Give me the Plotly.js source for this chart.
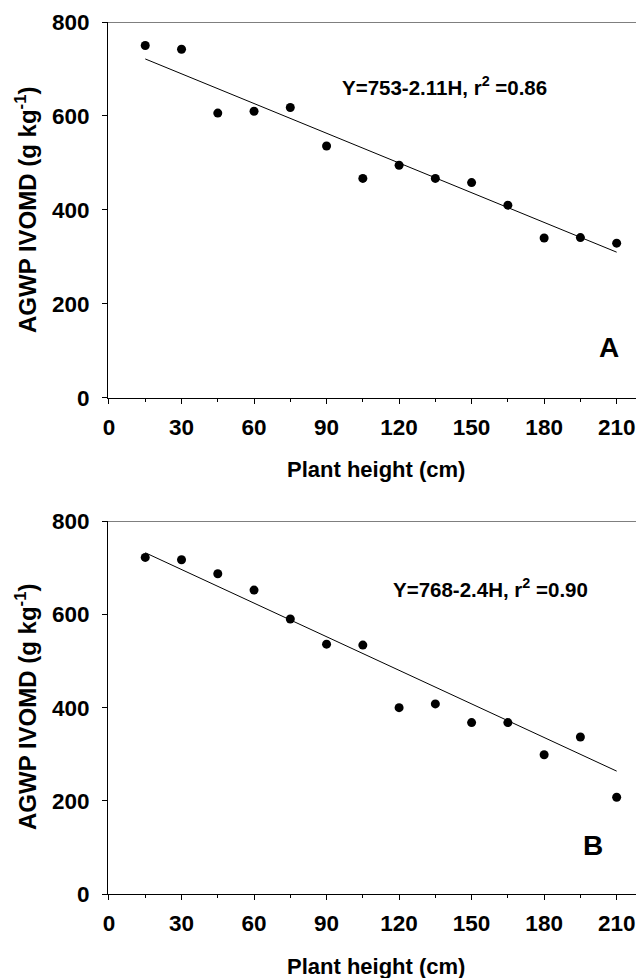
<!DOCTYPE html>
<html>
<head>
<meta charset="utf-8">
<script src="https://cdn.plot.ly/plotly-3.0.1.min.js"></script>
<style>
  html, body { margin: 0; padding: 0; background: #fff; }
  #chart { width: 636px; height: 978px; }
</style>
</head>
<body>
<div id="chart"></div>
<script>
// Plant height (cm) at each harvest
const plantHeight = [15, 30, 45, 60, 75, 90, 105, 120, 135, 150, 165, 180, 195, 210];

// AGWP IVOMD (g/kg), panel A and panel B
const ivomdA = [750, 742, 606, 610, 618, 536, 467, 495, 467, 458, 410, 340, 341, 329];
const ivomdB = [722, 717, 687, 652, 590, 536, 534, 400, 408, 368, 368, 299, 337, 208];

// Linear regression fits: Y = intercept + slope * H
const interceptA = 753, slopeA = -2.11, r2A = 0.86;
const interceptB = 768, slopeB = -2.4,  r2B = 0.90;

const xTickVals = [0, 30, 60, 90, 120, 150, 180, 210];
const yTickVals = [0, 200, 400, 600, 800];

const fitEnds = [plantHeight[0], plantHeight[plantHeight.length - 1]];
const fitLine = (a, b) => fitEnds.map(h => a + b * h);

const FONT = 'Liberation Sans, Arial, Helvetica, sans-serif';
const W = 636, H = 978;
const ML = 108; // left margin (pixels)

const dots = { color: '#000', size: 9 };
const traces = [
  { x: plantHeight, y: ivomdA, mode: 'markers', type: 'scatter', marker: dots, xaxis: 'x', yaxis: 'y', hoverinfo: 'skip' },
  { x: fitEnds, y: fitLine(interceptA, slopeA), mode: 'lines', type: 'scatter', line: { color: '#000', width: 1 }, xaxis: 'x', yaxis: 'y', hoverinfo: 'skip' },
  { x: plantHeight, y: ivomdB, mode: 'markers', type: 'scatter', marker: dots, xaxis: 'x2', yaxis: 'y2', hoverinfo: 'skip' },
  { x: fitEnds, y: fitLine(interceptB, slopeB), mode: 'lines', type: 'scatter', line: { color: '#000', width: 1 }, xaxis: 'x2', yaxis: 'y2', hoverinfo: 'skip' }
];

const tickFont = { family: FONT, size: 22.5, color: '#000', weight: 'bold' };

function xAxis(anchor) {
  return {
    anchor: anchor, domain: [0, 1], range: [-0.41, 218.0],
    tickvals: xTickVals, ticks: 'outside', ticklen: 5, tickwidth: 1, tickcolor: '#000',
    minor: { dtick: 15, tick0: 0, ticks: 'outside', ticklen: 3, tickcolor: '#000', tickwidth: 1 },
    showline: true, linecolor: '#000', linewidth: 1, showgrid: false, zeroline: false,
    tickfont: tickFont, ticklabelstandoff: 4
  };
}
function yAxis(anchor, domain) {
  return {
    anchor: anchor, domain: domain, range: [0, 800],
    tickvals: yTickVals, ticks: 'outside', ticklen: 5, tickwidth: 1, tickcolor: '#000',
    showline: true, linecolor: '#000', linewidth: 1, showgrid: false, zeroline: false,
    tickfont: tickFont, ticklabelstandoff: 8
  };
}

const fmtEq = (a, b, r2) => `Y=${a}-${Math.abs(b)}H, r<sup>2</sup> =${r2.toFixed(2)}`;

// pixel -> paper coordinates (paper spans the area inside the margins)
const px = v => (v - ML) / (W - ML), py = v => 1 - v / H;
const yTitle = 'AGWP IVOMD (g kg<sup>-1</sup>)';

function label(x, y, text, size, extra) {
  return Object.assign({
    xref: 'paper', yref: 'paper', x: px(x), y: py(y), text: text, showarrow: false,
    xanchor: 'center', yanchor: 'middle',
    font: { family: FONT, size: size, color: '#000', weight: 'bold' }
  }, extra || {});
}

const layout = {
  width: W, height: H,
  margin: { l: ML, r: 0, t: 0, b: 0 },
  paper_bgcolor: '#fff', plot_bgcolor: '#fff',
  showlegend: false,
  xaxis: xAxis('y'),
  yaxis: yAxis('x', [py(397.7), py(22)]),
  xaxis2: xAxis('y2'),
  yaxis2: yAxis('x2', [py(894.3), py(521)]),
  shapes: [
    { type: 'line', xref: 'x domain', yref: 'y', x0: 0, x1: 1, y0: 800, y1: 800, line: { color: '#000', width: 1 } },
    { type: 'line', xref: 'x2 domain', yref: 'y2', x0: 0, x1: 1, y0: 800, y1: 800, line: { color: '#000', width: 1 } }
  ],
  annotations: [
    label(444, 86, fmtEq(interceptA, slopeA, r2A), 20.5),
    label(490, 588, fmtEq(interceptB, slopeB, r2B), 20.5),
    label(609, 348, 'A', 28),
    label(593, 845, 'B', 28),
    label(376, 470, 'Plant height (cm)', 22),
    label(376, 966, 'Plant height (cm)', 22),
    label(26, 210, yTitle, 24, { textangle: -90 }),
    label(26, 707, yTitle, 24, { textangle: -90 })
  ]
};

Plotly.newPlot('chart', traces, layout, { staticPlot: true, displayModeBar: false });
</script>
</body>
</html>
